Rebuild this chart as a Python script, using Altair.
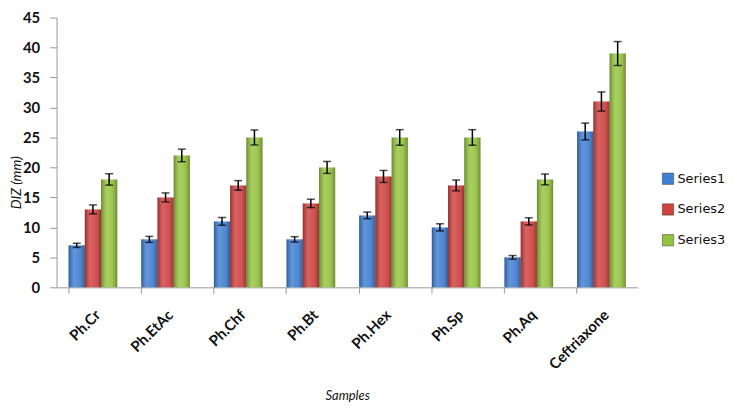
import altair as alt
import pandas as pd

samples = ["Ph.Cr", "Ph.EtAc", "Ph.Chf", "Ph.Bt", "Ph.Hex", "Ph.Sp", "Ph.Aq", "Ceftriaxone"]
series_names = ["Series1", "Series2", "Series3"]
series1 = [7, 8, 11, 8, 12, 10, 5, 26]
series2 = [13, 15, 17, 14, 18.5, 17, 11, 31]
series3 = [18, 22, 25, 20, 25, 25, 18, 39]
err1 = [0.35, 0.5, 0.65, 0.45, 0.55, 0.6, 0.3, 1.4]
err2 = [0.75, 0.75, 0.8, 0.7, 1.0, 0.9, 0.6, 1.6]
err3 = [0.95, 1.05, 1.25, 1.0, 1.3, 1.3, 0.9, 2.0]
colors = ["#3f7fd3", "#d0413f", "#96c43f"]
y_ticks = [0, 5, 10, 15, 20, 25, 30, 35, 40, 45]

rows = []
for name, vals, errs in zip(series_names, [series1, series2, series3], [err1, err2, err3]):
    for s, v, e in zip(samples, vals, errs):
        rows.append({"Sample": s, "Series": name, "DIZ": v, "lo": v - e, "hi": v + e})
df = pd.DataFrame(rows)

x_axis = alt.Axis(
    title="Samples",
    labelAngle=-45,
    labelFont="Lato",
    labelFontSize=15,
    labelFontWeight="bold",
    labelColor="#111111",
    labelPadding=14,
    bandPosition=0,
    tickSize=6,
    tickColor="#999999",
    domainColor="#999999",
    titleFont="Lato",
    titleFontSize=13,
    titleFontWeight="normal",
    titleFontStyle="italic",
    titleColor="#111111",
    titlePadding=17,
)
y_axis = alt.Axis(
    title="DIZ (mm)",
    values=y_ticks,
    labelOverlap=False,
    grid=False,
    labelFont="Lato",
    labelFontSize=15,
    labelFontWeight="bold",
    labelColor="#111111",
    labelPadding=10,
    tickSize=7,
    tickColor="#999999",
    domainColor="#999999",
    titleFont="Lato",
    titleFontSize=14,
    titleFontWeight="normal",
    titleFontStyle="italic",
    titleColor="#111111",
    titleX=-40,
    titleY=166,
    titleAngle=270,
    titleAlign="center",
    titleBaseline="middle",
)

x_scale = alt.Scale(paddingInner=0.33, paddingOuter=0.165)
y_scale = alt.Scale(domain=[0, 45], nice=False)


def xe():
    return alt.X("Sample:N", sort=samples, scale=x_scale, axis=x_axis)


def xo():
    return alt.XOffset("Series:N", sort=series_names, scale=alt.Scale(paddingInner=0, paddingOuter=0))


def ye(field):
    return alt.Y(field, type="quantitative", scale=y_scale, axis=y_axis)


base = alt.Chart(df)

bars = base.mark_bar().encode(
    x=xe(),
    xOffset=xo(),
    y=ye("DIZ"),
    color=alt.Color(
        "Series:N",
        sort=series_names,
        scale=alt.Scale(domain=series_names, range=colors),
        legend=alt.Legend(
            title=None,
            orient="none",
            legendX=610,
            legendY=156,
            symbolType="square",
            symbolSize=130,
            symbolStrokeColor="#333333",
            symbolStrokeWidth=0.5,
            labelFont="DejaVu Sans",
            labelFontSize=13,
            labelColor="#111111",
            rowPadding=16,
            labelOffset=3,
        ),
    ),
)

shine = base.mark_bar(
    color=alt.Gradient(
        gradient="linear",
        x1=0, x2=1, y1=0, y2=0,
        stops=[
            alt.GradientStop(color="rgba(0,0,0,0.30)", offset=0),
            alt.GradientStop(color="rgba(255,255,255,0.18)", offset=0.35),
            alt.GradientStop(color="rgba(255,255,255,0.10)", offset=0.6),
            alt.GradientStop(color="rgba(0,0,0,0.30)", offset=1),
        ],
    )
).encode(x=xe(), xOffset=xo(), y=ye("DIZ"))

rules = base.mark_rule(color="#000000", strokeWidth=1.5).encode(
    x=xe(), xOffset=xo(), y=ye("lo"), y2="hi:Q"
)
cap_lo = base.mark_tick(color="#000000", size=8, thickness=1.5).encode(
    x=xe(), xOffset=xo(), y=ye("lo")
)
cap_hi = base.mark_tick(color="#000000", size=8, thickness=1.5).encode(
    x=xe(), xOffset=xo(), y=ye("hi")
)

chart = (
    alt.layer(bars, shine, rules, cap_lo, cap_hi)
    .properties(
        width=586,
        height=272,
        autosize=alt.AutoSizeParams(type="none"),
        padding={"left": 49, "top": 8, "right": 92, "bottom": 117},
    )
    .configure_view(stroke=None)
)

chart.save("out.html", embed_options={"renderer": "svg", "actions": False})
